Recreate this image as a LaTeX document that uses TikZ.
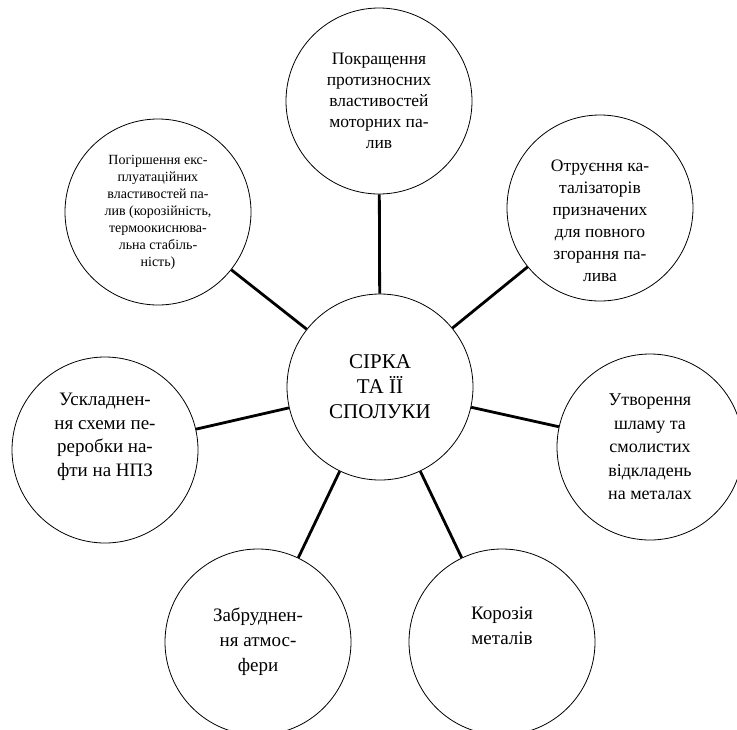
\documentclass[tikz,border=0pt]{standalone}
\usepackage{fontspec}
\setmainfont{Liberation Serif}

\begin{document}
\begin{tikzpicture}[x=1pt, y=-1pt, line width=0.8pt, main/.style = {draw, circle, minimum size=186pt, inner sep=0pt, align=center}, link/.style = {line width=2.8pt}]
    \useasboundingbox (0,0) rectangle (737,729);
    \node[main, font=\fontsize{21}{25}\selectfont] (1) at (380,387) {СІРКА\\ТА ЇЇ\\СПОЛУКИ};
    \node[main, font=\fontsize{17.5}{21}\selectfont] (2) at (379,101) {Покращення\\протизносних\\властивостей\\моторних па-\\лив};
    \node[main, font=\fontsize{17.5}{22}\selectfont] (3) at (600,208) {\strut\\Отруєння ка-\\талізаторів\\призначених\\для повного\\згорання па-\\лива};
    \node[main, font=\fontsize{18}{23.5}\selectfont] (4) at (650,447) {Утворення\\шламу та\\смолистих\\відкладень\\на металах};
    \node[main, font=\fontsize{19}{25}\selectfont] (5) at (502,642) {Корозія\\металів\\\strut};
    \node[main, font=\fontsize{19}{25}\selectfont] (6) at (258,642) {Забруднен-\\ня атмос-\\фери};
    \node[main, font=\fontsize{19}{23.5}\selectfont] (7) at (105,450) {Ускладнен-\\ня схеми пе-\\реробки на-\\фти на НПЗ\\\strut};
    \node[main, font=\fontsize{14}{17}\selectfont] (8) at (158,212) {Погіршення екс-\\плуатаційних\\властивостей па-\\лив (корозійність,\\термоокиснюва-\\льна стабіль-\\ність)};
    \draw[link] (1) -- (2);
    \draw[link] (1) -- (3);
    \draw[link] (1) -- (4);
    \draw[link] (1) -- (5);
    \draw[link] (1) -- (6);
    \draw[link] (1) -- (7);
    \draw[link] (1) -- (8);
\end{tikzpicture}
\end{document}
